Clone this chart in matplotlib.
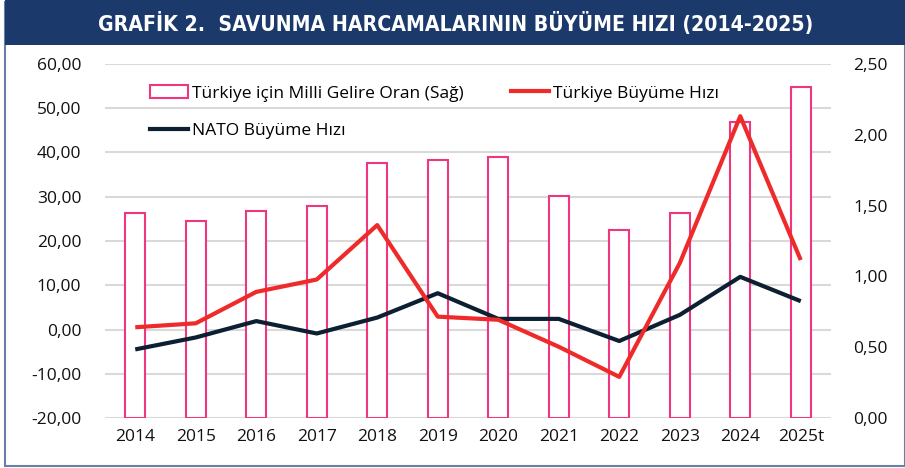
import matplotlib
matplotlib.use("Agg")
import matplotlib.pyplot as plt
from matplotlib.patches import Rectangle
from matplotlib.lines import Line2D

# veriler
years = ["2014", "2015", "2016", "2017", "2018", "2019", "2020", "2021", "2022", "2023", "2024", "2025t"]
milli_gelir_oran = [1.45, 1.39, 1.46, 1.50, 1.80, 1.82, 1.84, 1.57, 1.33, 1.45, 2.09, 2.34]
turkiye_buyume = [0.5, 1.4, 8.5, 11.3, 23.6, 2.9, 2.2, -3.9, -10.7, 15.0, 48.2, 15.7]
nato_buyume = [-4.5, -1.8, 1.9, -0.9, 2.7, 8.2, 2.4, 2.4, -2.6, 3.3, 11.9, 6.4]

left_ticks = [-20, -10, 0, 10, 20, 30, 40, 50, 60]
right_ticks = [0.0, 0.5, 1.0, 1.5, 2.0, 2.5]

NAVY = "#1b3a6b"
PINK = "#f0367e"
RED = "#ee2a2a"
DARK = "#0d1f33"
GRID = "#d9d9d9"

plt.rcParams['font.family'] = ['Open Sans', 'DejaVu Sans']

W, H = 905, 468
fig = plt.figure(figsize=(W / 100, H / 100), dpi=100)

# cerceve ve baslik bandi
fig.patches.append(Rectangle((5 / W, 2 / H), (W - 5) / W, (H - 4) / H, transform=fig.transFigure,
                             fill=False, edgecolor="#6a7fa5", linewidth=1.5))
fig.patches.append(Rectangle((5 / W, (H - 45) / H), (W - 5) / W, 45 / H, transform=fig.transFigure,
                             facecolor=NAVY, edgecolor="none"))
fig.text(456 / W, (H - 23) / H, "GRAFİK 2.  SAVUNMA HARCAMALARININ BÜYÜME HIZI (2014-2025)",
         color="white", fontsize=15.2, fontweight="bold", ha="center", va="center",
         fontstretch="condensed", family=['DejaVu Sans'])

ax = fig.add_axes([105 / W, 50 / H, 726 / W, 354 / H])
ax2 = ax.twinx()

x = list(range(len(years)))

# sol eksen gridleri, sag eksen biriminde (cubuklarin arkasinda)
for yv in left_ticks:
    ax2.axhline((yv + 20) / 80 * 2.5, color=GRID, linewidth=1.5, zorder=0)

# sag eksen: cubuklar
ax2.bar(x, milli_gelir_oran, width=0.33, facecolor="white", edgecolor=PINK, linewidth=1.5, zorder=2)
ax2.set_ylim(0, 2.5)
ax2.set_yticks(right_ticks)
ax2.set_yticklabels([f"{v:.2f}".replace(".", ",") for v in right_ticks])

# sol eksen: cizgiler (onde)
ax.set_zorder(ax2.get_zorder() + 1)
ax.patch.set_visible(False)
ax.plot(x, turkiye_buyume, color=RED, linewidth=3, solid_capstyle="butt", zorder=4)
ax.plot(x, nato_buyume, color=DARK, linewidth=3, solid_capstyle="butt", zorder=3)
ax.set_ylim(-20, 60)
ax.set_yticks(left_ticks)
ax.set_yticklabels([f"{v:.2f}".replace(".", ",") for v in left_ticks])
ax.set_xlim(-0.5, 11.5)
ax.set_xticks(x)
ax.set_xticklabels(years)

for a in (ax, ax2):
    for s in a.spines.values():
        s.set_visible(False)
    a.tick_params(length=0, labelsize=12.5, colors="#111111")
ax.tick_params(axis="y", pad=17)
ax2.tick_params(axis="y", pad=16)
ax.tick_params(axis="x", pad=8)

# legend: ilk sutun cubuk + NATO, ikinci sutun Turkiye
handles = [Rectangle((0, 0), 1, 1, facecolor="white", edgecolor=PINK, linewidth=1.5),
           Line2D([], [], color=DARK, linewidth=3),
           Line2D([], [], color=RED, linewidth=3)]
labels = ["Türkiye için Milli Gelire Oran (Sağ)", "NATO Büyüme Hızı", "Türkiye Büyüme Hızı"]
ax.legend(handles, labels, ncol=2, loc="upper left", bbox_to_anchor=(0.04, 0.985),
          frameon=False, fontsize=12.5, handlelength=2.2, handleheight=0.8, handletextpad=0.25,
          columnspacing=2.7, labelspacing=1.2)

fig.savefig("out.png", dpi=100)
